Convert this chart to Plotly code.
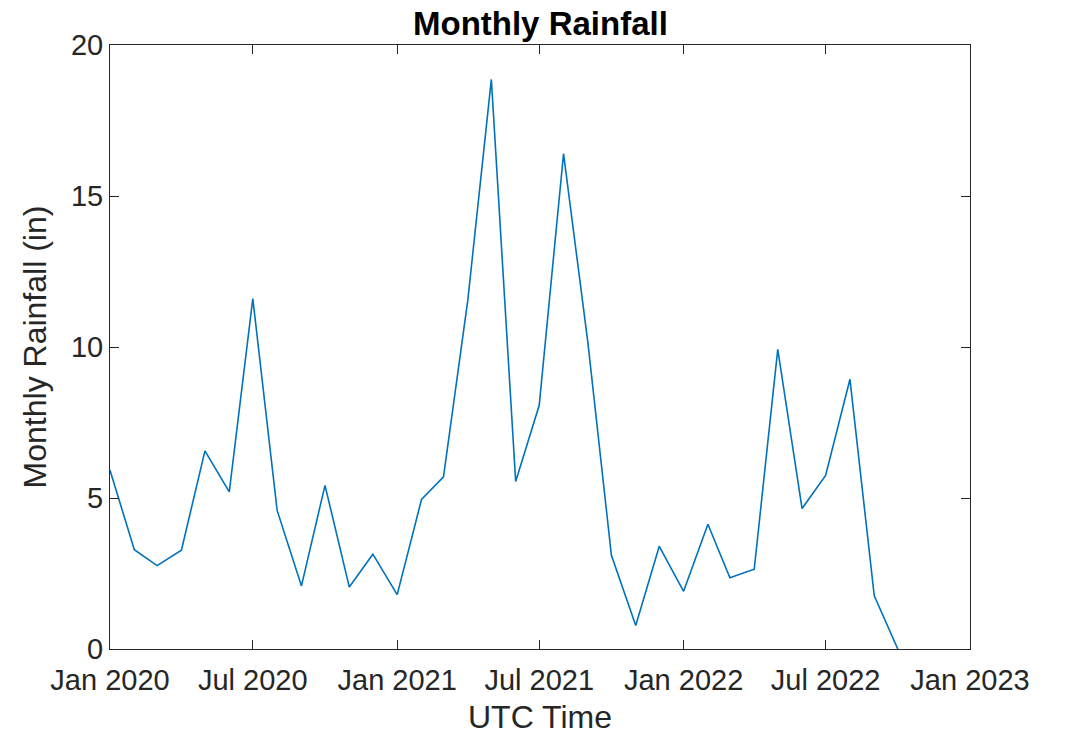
import plotly.graph_objects as go
import pandas as pd

# Monthly rainfall totals (inches), Jan 2020 - Oct 2022
months = pd.date_range("2020-01-01", "2022-10-01", freq="MS")
rainfall_in = [
    5.92, 3.29, 2.76, 3.27, 6.56, 5.20, 11.60, 4.59, 2.09, 5.42, 2.05, 3.14,
    1.80, 4.95, 5.70, 11.55, 18.86, 5.55, 8.07, 16.40, 10.15, 3.10, 0.78, 3.40,
    1.91, 4.13, 2.36, 2.64, 9.92, 4.65, 5.75, 8.93, 1.76, 0.00,
]

x_range = ["2020-01-01", "2023-01-01"]
y_ticks = [0, 5, 10, 15, 20]

FONT = "Liberation Sans, Arial, Helvetica, sans-serif"
AXIS_COLOR = "#262626"

fig = go.Figure()
fig.add_trace(go.Scatter(
    x=months, y=rainfall_in, mode="lines",
    line=dict(color="#0072BD", width=1.6),
    showlegend=False,
))

axis_common = dict(
    showline=True, linecolor=AXIS_COLOR, linewidth=1,
    mirror="ticks", ticks="inside", ticklen=9, tickwidth=1,
    tickcolor=AXIS_COLOR, showgrid=False, zeroline=False,
    tickfont=dict(family=FONT, size=29, color=AXIS_COLOR),
)

fig.update_xaxes(
    range=x_range, type="date", tick0="2020-01-01", dtick="M6",
    tickformat="%b %Y", ticklabelstandoff=5,
    title=dict(text="UTC Time", font=dict(family=FONT, size=32, color=AXIS_COLOR), standoff=10),
    **axis_common,
)
fig.update_yaxes(
    range=[0, 20], tickvals=y_ticks,
    title=dict(text="Monthly Rainfall (in)", font=dict(family=FONT, size=32, color=AXIS_COLOR), standoff=14),
    **axis_common,
)

fig.add_annotation(
    text="<b>Monthly Rainfall</b>", xref="paper", yref="paper",
    x=0.5, y=1, xanchor="center", yanchor="bottom", yshift=1,
    showarrow=False, font=dict(family=FONT, size=33, color="black"),
)

fig.update_layout(
    width=1066, height=739,
    margin=dict(l=110, r=96, t=45, b=90),
    paper_bgcolor="white", plot_bgcolor="white",
)

fig.write_html("out.html")
